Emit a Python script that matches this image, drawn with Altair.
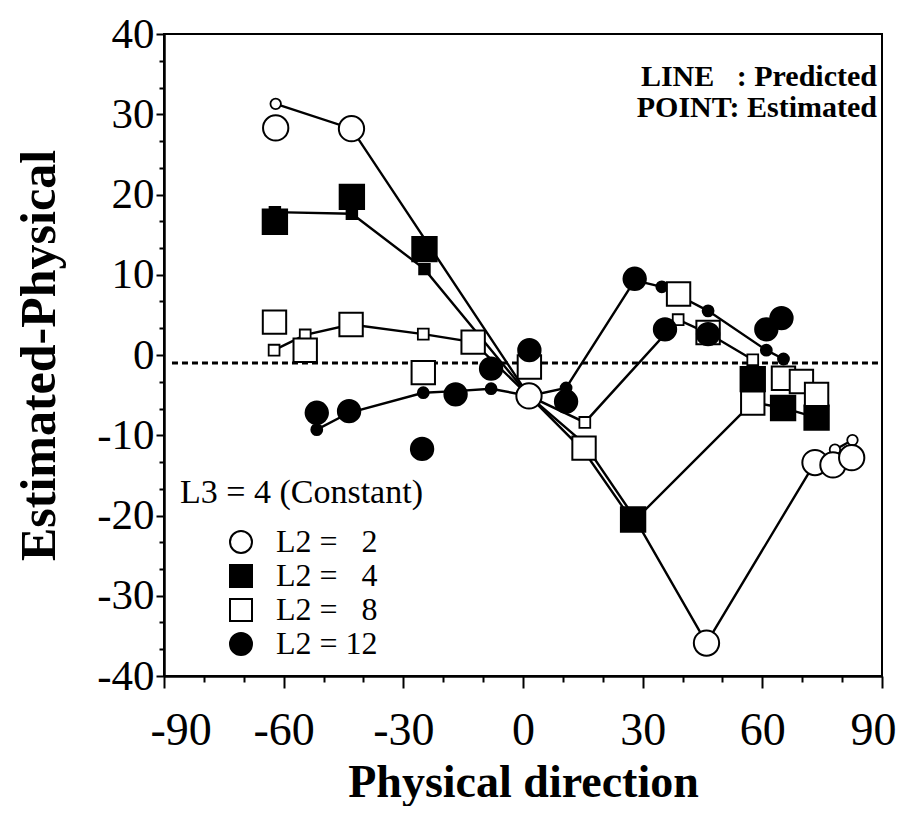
import altair as alt
import pandas as pd

# ---------------- data ----------------
series_names = ["L2 =\u00a0\u00a0\u00a02", "L2 =\u00a0\u00a0\u00a04", "L2 =\u00a0\u00a0\u00a08", "L2 = 12"]

# L2 = 2 (open circles)
pred_x2 = [-62.0, -43.0, 1.5, 15.3, 27.6, 46.0, 73.2, 78.2, 82.6]
pred_y2 = [31.3, 28.2, -5.1, -11.0, -20.0, -35.9, -13.4, -11.8, -10.6]
est_x2 = [-62.0, -43.0, 1.5, 46.0, 73.2, 77.7, 82.4]
est_y2 = [28.3, 28.2, -5.1, -35.9, -13.4, -13.7, -12.8]

# L2 = 4 (filled squares)
pred_x4 = [-62.2, -42.9, -24.7, 1.5, 15.3, 27.6, 57.6, 65.2, 73.6]
pred_y4 = [17.8, 17.6, 10.7, -5.1, -12.0, -20.8, -5.9, -6.6, -7.8]
est_x4 = [-62.2, -42.9, -24.7, 27.6, 57.6, 65.2, 73.6]
est_y4 = [16.6, 19.7, 13.2, -20.5, -3.0, -6.6, -7.8]

# L2 = 8 (open squares)
pred_x8 = [-62.4, -54.6, -43.1, -25.0, -12.5, 1.5, 15.5, 38.9, 46.4, 57.6]
pred_y8 = [0.6, 2.5, 3.8, 2.6, 1.6, -5.1, -8.4, 4.4, 2.7, -0.6]
est_x8 = [-62.3, -54.6, -43.1, -25.0, -12.5, 1.6, 15.3, 39.0, 46.4, 57.6, 65.3, 69.8, 73.6]
est_y8 = [4.1, 0.6, 3.8, -2.2, 1.6, -1.5, -11.6, 7.6, 2.8, -6.0, -2.9, -3.3, -4.9]

# L2 = 12 (filled circles)
pred_x12 = [-51.7, -43.6, -25.0, -16.9, -8.0, 1.5, 10.8, 28.0, 34.8, 46.4, 61.0, 65.3]
pred_y12 = [-9.3, -7.2, -4.7, -4.5, -4.2, -5.1, -4.1, 9.3, 8.5, 5.5, 0.6, -0.5]
est_x12 = [-51.7, -43.6, -25.3, -16.9, -8.0, 1.6, 10.8, 28.0, 35.6, 46.4, 61.0, 64.8]
est_y12 = [-7.2, -7.0, -11.7, -4.9, -1.7, 0.6, -5.8, 9.5, 3.2, 2.6, 3.2, 4.6]

# dotted reference line
ref_x = [-88.0, 90.0]
ref_y = [-1.0, -1.0]

x_major_ticks = [-90, -60, -30, 0, 30, 60, 90]
x_minor_ticks = [-80, -70, -50, -40, -20, -10, 10, 20, 40, 50, 70, 80]
y_major_ticks = [-40, -30, -20, -10, 0, 10, 20, 30, 40]
y_minor_ticks = [round(-40 + k * 10 / 3, 3) for k in range(25) if k % 3 != 0]

legend_title = "L3 = 4 (Constant)"
note_line = "LINE\u00a0\u00a0\u00a0: Predicted"
note_point = "POINT: Estimated"

# ---------------- tables ----------------
def frame(xs, ys, s):
    return pd.DataFrame({"x": xs, "y": ys, "series": s, "idx": list(range(len(xs)))})

pred = pd.concat([
    frame(pred_x2, pred_y2, series_names[0]),
    frame(pred_x4, pred_y4, series_names[1]),
    frame(pred_x8, pred_y8, series_names[2]),
    frame(pred_x12, pred_y12, series_names[3]),
], ignore_index=True)
est = pd.concat([
    frame(est_x2, est_y2, series_names[0]),
    frame(est_x4, est_y4, series_names[1]),
    frame(est_x8, est_y8, series_names[2]),
    frame(est_x12, est_y12, series_names[3]),
], ignore_index=True)
ref = pd.DataFrame({"x": ref_x, "y": ref_y})

SERIF = "Liberation Serif"
TOP = 26          # plot area top offset inside the svg
W, H = 718, 642
OY = 8 + TOP      # page y of the plot's top edge

xscale = alt.Scale(domain=[-90, 90], nice=False, zero=False)
yscale = alt.Scale(domain=[-40, 40], nice=False, zero=False)
fill_scale = alt.Scale(domain=series_names, range=["white", "black", "white", "black"])
shape_scale = alt.Scale(domain=series_names, range=["circle", "square", "square", "circle"])
stroke_scale = alt.Scale(domain=series_names, range=["black", "black", "black", "black"])

x_major = alt.Axis(values=x_major_ticks, orient="bottom", title="Physical direction",
                   labelExpr="'' + datum.value", tickSize=12, labelPadding=20,
                   labelFontSize=46, labelFlush=True, labelFlushOffset=14,
                   titleBaseline="alphabetic", titleY=120, titleFontSize=46, grid=False)
y_major = alt.Axis(values=y_major_ticks, orient="left", title="Estimated-Physical",
                   labelExpr="'' + datum.value", tickSize=8, labelPadding=2,
                   labelFontSize=43, labelFlush=False,
                   titleBaseline="alphabetic", titleX=-110, titleFontSize=50, grid=False)
x_minor = alt.Axis(values=x_minor_ticks, orient="bottom", labels=False, tickSize=6,
                   domain=False, title=None, grid=False)
y_minor = alt.Axis(values=y_minor_ticks, orient="left", labels=False, tickSize=5,
                   domain=False, title=None, grid=False)

leg = alt.Legend(orient="none", legendX=61, legendY=526 - OY, title=None,
                 labelFont=SERIF, labelFontSize=32, labelColor="black",
                 symbolSize=484, symbolStrokeColor="black", symbolStrokeWidth=2,
                 labelOffset=19, rowPadding=2, padding=0)

ref_layer = alt.Chart(ref).mark_line(strokeDash=[6, 4], strokeWidth=3, color="black").encode(
    x=alt.X("x:Q", scale=xscale, axis=x_major),
    y=alt.Y("y:Q", scale=yscale, axis=y_major),
)
minor_layer = alt.Chart(ref).mark_line(opacity=0).encode(
    x=alt.X("x:Q", scale=xscale, axis=x_minor),
    y=alt.Y("y:Q", scale=yscale, axis=y_minor),
)
line_layer = alt.Chart(pred).mark_line(color="black", strokeWidth=2.4).encode(
    x=alt.X("x:Q", scale=xscale, axis=None),
    y=alt.Y("y:Q", scale=yscale, axis=None),
    detail="series:N",
    order="idx:Q",
)
small_layer = alt.Chart(pred).mark_point(filled=True, strokeWidth=1.8, opacity=1).encode(
    x=alt.X("x:Q", scale=xscale, axis=None),
    y=alt.Y("y:Q", scale=yscale, axis=None),
    fill=alt.Fill("series:N", scale=fill_scale, legend=leg),
    shape=alt.Shape("series:N", scale=shape_scale, legend=leg),
    stroke=alt.Stroke("series:N", scale=stroke_scale, legend=leg),
    size=alt.Size("series:N", scale=alt.Scale(domain=series_names, range=[110, 121, 100, 100]), legend=None),
)
est_layer = alt.Chart(est).mark_point(filled=True, strokeWidth=2, opacity=1).encode(
    x=alt.X("x:Q", scale=xscale, axis=None),
    y=alt.Y("y:Q", scale=yscale, axis=None),
    fill=alt.Fill("series:N", scale=fill_scale, legend=leg),
    shape=alt.Shape("series:N", scale=shape_scale, legend=leg),
    stroke=alt.Stroke("series:N", scale=stroke_scale, legend=leg),
    size=alt.Size("series:N", scale=alt.Scale(domain=series_names, range=[640, 500, 625, 484]), legend=None),
)

title_layer = alt.Chart(pd.DataFrame({"t": [legend_title]})).mark_text(
    align="left", baseline="alphabetic", font=SERIF, fontSize=34, color="black"
).encode(x=alt.value(16), y=alt.value(503 - OY), text="t:N")

note1 = alt.Chart(pd.DataFrame({"t": [note_line]})).mark_text(
    align="right", baseline="alphabetic", font=SERIF, fontSize=30, fontWeight="bold", color="black"
).encode(x=alt.value(713), y=alt.value(86 - OY), text="t:N")
note2 = alt.Chart(pd.DataFrame({"t": [note_point]})).mark_text(
    align="right", baseline="alphabetic", font=SERIF, fontSize=30, fontWeight="bold", color="black"
).encode(x=alt.value(713), y=alt.value(117 - OY), text="t:N")

chart = alt.layer(
    ref_layer, minor_layer, line_layer, small_layer, est_layer, title_layer, note1, note2
).resolve_axis(x="independent", y="independent").resolve_scale(size="independent").properties(
    width=W, height=H,
    padding={"left": 156, "top": TOP, "right": 15, "bottom": 130},
    autosize=alt.AutoSizeParams(type="none"),
).configure_view(stroke="black", strokeWidth=2).configure_axis(
    domainColor="black", domainWidth=2.5, tickColor="black", tickWidth=2,
    labelFont=SERIF, labelColor="black",
    titleFont=SERIF, titleFontWeight="bold", titleColor="black",
)

chart.save("out.html", embed_options={"renderer": "svg", "actions": False})
